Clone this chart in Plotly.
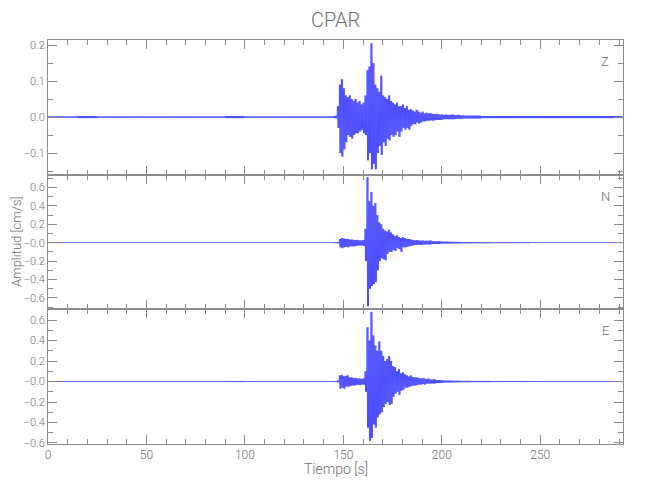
import plotly.graph_objects as go

TITLE = "CPAR"
COMPONENTS = ["Z", "N", "E"]
X_LABEL = "Tiempo [s]"
Y_LABEL = "Amplitud [cm/s]"
RECORD_END = 292          # s
EVENT_START = 145         # first second of the 1-s envelope window
BIN_BG = 5                # background envelope bin width (s)

# ---- per-second envelope (upper / lower amplitude, cm/s), t = 145 ... 209 s ----
z_up = [0.003, 0.004, 0.030, 0.090, 0.105, 0.080, 0.060, 0.055, 0.060, 0.050, 0.045, 0.050, 0.040,
        0.045, 0.035, 0.040, 0.060, 0.130, 0.140, 0.205, 0.150, 0.090, 0.080, 0.070, 0.115, 0.060,
        0.055, 0.050, 0.060, 0.045, 0.040, 0.035, 0.040, 0.030, 0.030, 0.035, 0.025, 0.030, 0.020,
        0.022, 0.018, 0.015, 0.020, 0.015, 0.012, 0.015, 0.010, 0.012, 0.010, 0.011, 0.009, 0.008,
        0.009, 0.008, 0.007, 0.007, 0.006, 0.007, 0.006, 0.006, 0.007, 0.006, 0.005, 0.006, 0.005]
z_dn = [0.003, 0.004, 0.030, 0.100, 0.110, 0.090, 0.070, 0.050, 0.055, 0.060, 0.050, 0.045, 0.045,
        0.040, 0.035, 0.045, 0.050, 0.120, 0.100, 0.145, 0.130, 0.145, 0.100, 0.080, 0.105, 0.070,
        0.080, 0.060, 0.065, 0.050, 0.055, 0.050, 0.040, 0.055, 0.040, 0.030, 0.035, 0.030, 0.035,
        0.025, 0.020, 0.020, 0.015, 0.018, 0.015, 0.012, 0.012, 0.010, 0.010, 0.009, 0.010, 0.009,
        0.008, 0.008, 0.008, 0.007, 0.006, 0.006, 0.006, 0.006, 0.006, 0.006, 0.005, 0.005, 0.005]

n_up = [0.005, 0.005, 0.006, 0.040, 0.050, 0.045, 0.040, 0.040, 0.035, 0.035, 0.030, 0.030, 0.030,
        0.025, 0.025, 0.030, 0.150, 0.710, 0.450, 0.550, 0.400, 0.430, 0.300, 0.220, 0.200, 0.150,
        0.130, 0.120, 0.140, 0.110, 0.090, 0.070, 0.080, 0.060, 0.050, 0.060, 0.050, 0.040, 0.040,
        0.035, 0.030, 0.025, 0.028, 0.025, 0.022, 0.025, 0.020, 0.022, 0.020, 0.025, 0.018, 0.015,
        0.015, 0.018, 0.014, 0.012, 0.010, 0.012, 0.010, 0.010, 0.009, 0.010, 0.008, 0.009, 0.008]
n_dn = [0.005, 0.005, 0.006, 0.050, 0.060, 0.050, 0.045, 0.050, 0.040, 0.040, 0.040, 0.035, 0.030,
        0.030, 0.030, 0.035, 0.200, 0.690, 0.500, 0.470, 0.450, 0.430, 0.300, 0.200, 0.170, 0.180,
        0.190, 0.120, 0.100, 0.100, 0.080, 0.090, 0.060, 0.070, 0.100, 0.050, 0.050, 0.045, 0.040,
        0.035, 0.030, 0.025, 0.025, 0.022, 0.025, 0.020, 0.020, 0.018, 0.020, 0.018, 0.015, 0.015,
        0.014, 0.015, 0.012, 0.010, 0.010, 0.010, 0.010, 0.009, 0.009, 0.008, 0.008, 0.008, 0.007]

e_up = [0.005, 0.005, 0.010, 0.060, 0.065, 0.050, 0.055, 0.060, 0.040, 0.040, 0.035, 0.035, 0.030,
        0.030, 0.025, 0.030, 0.100, 0.530, 0.400, 0.680, 0.450, 0.350, 0.300, 0.390, 0.300, 0.250,
        0.200, 0.220, 0.250, 0.200, 0.150, 0.140, 0.100, 0.120, 0.080, 0.090, 0.070, 0.060, 0.050,
        0.060, 0.045, 0.040, 0.040, 0.035, 0.030, 0.035, 0.030, 0.025, 0.030, 0.020, 0.020, 0.025,
        0.015, 0.015, 0.015, 0.012, 0.010, 0.010, 0.010, 0.009, 0.009, 0.008, 0.008, 0.008, 0.007]
e_dn = [0.005, 0.005, 0.010, 0.070, 0.060, 0.070, 0.050, 0.050, 0.045, 0.040, 0.040, 0.035, 0.030,
        0.035, 0.030, 0.030, 0.100, 0.450, 0.580, 0.550, 0.420, 0.450, 0.350, 0.320, 0.300, 0.250,
        0.220, 0.200, 0.230, 0.220, 0.150, 0.120, 0.100, 0.130, 0.090, 0.080, 0.060, 0.060, 0.050,
        0.045, 0.040, 0.040, 0.035, 0.030, 0.030, 0.025, 0.030, 0.020, 0.020, 0.020, 0.020, 0.020,
        0.015, 0.015, 0.015, 0.012, 0.010, 0.010, 0.010, 0.009, 0.009, 0.008, 0.008, 0.008, 0.007]

# ---- background noise envelope, 5-s bins from 0 s (bins inside the event window unused) ----
z_bg = [0.002, 0.002, 0.002, 0.003, 0.003, 0.002, 0.002, 0.002, 0.002, 0.002,
        0.002, 0.002, 0.002, 0.002, 0.002, 0.002, 0.002, 0.002, 0.003, 0.003,
        0.002, 0.002, 0.002, 0.002, 0.002, 0.002, 0.002, 0.002, 0.002, 0.003,
        0.003, 0.003, 0.003, 0.003, 0.003, 0.003, 0.003, 0.003, 0.003, 0.003,
        0.003, 0.003, 0.004, 0.004, 0.003, 0.003, 0.003, 0.003, 0.003, 0.003,
        0.003, 0.003, 0.003, 0.003, 0.003, 0.003, 0.003, 0.003, 0.003]
n_bg = [0.004, 0.004, 0.004, 0.004, 0.004, 0.004, 0.004, 0.004, 0.004, 0.004,
        0.004, 0.004, 0.004, 0.004, 0.004, 0.004, 0.004, 0.004, 0.004, 0.004,
        0.004, 0.004, 0.004, 0.004, 0.004, 0.004, 0.004, 0.004, 0.004, 0.004,
        0.004, 0.004, 0.004, 0.004, 0.004, 0.004, 0.004, 0.004, 0.004, 0.004,
        0.004, 0.004, 0.007, 0.006, 0.006, 0.005, 0.005, 0.005, 0.005, 0.004,
        0.004, 0.004, 0.004, 0.004, 0.004, 0.004, 0.004, 0.004, 0.004]
e_bg = [0.004, 0.004, 0.004, 0.004, 0.004, 0.004, 0.004, 0.004, 0.004, 0.004,
        0.004, 0.004, 0.004, 0.004, 0.004, 0.004, 0.004, 0.004, 0.005, 0.005,
        0.004, 0.004, 0.004, 0.004, 0.004, 0.004, 0.004, 0.004, 0.004, 0.004,
        0.004, 0.004, 0.004, 0.004, 0.004, 0.004, 0.004, 0.004, 0.004, 0.004,
        0.004, 0.004, 0.007, 0.006, 0.006, 0.005, 0.005, 0.005, 0.005, 0.004,
        0.004, 0.004, 0.004, 0.004, 0.004, 0.004, 0.004, 0.004, 0.004]

# ---- axis ranges / tick labels (as printed on the original) ----
y_ranges = [[-0.160, 0.214], [-0.723, 0.738], [-0.610, 0.705]]
y_tickvals = [[-0.1, 0.0, 0.1, 0.2],
              [-0.6, -0.4, -0.2, 0.0, 0.2, 0.4, 0.6],
              [-0.6, -0.4, -0.2, 0.0, 0.2, 0.4, 0.6]]
y_ticktext = [["\u22120.1", "0.0", "0.1", "0.2"],
              ["\u22120.6", "\u22120.4", "\u22120.2", "\u22120.0", "0.2", "0.4", "0.6"],
              ["\u22120.6", "\u22120.4", "\u22120.2", "\u22120.0", "0.2", "0.4", "0.6"]]
y_minor = [0.05, 0.1, 0.1]
x_tickvals = [0, 50, 100, 150, 200, 250]
x_ticktext = ["0", "50", "100", "150", "200", "250"]

envelopes = [(z_up, z_dn, z_bg), (n_up, n_dn, n_bg), (e_up, e_dn, e_bg)]
WIGGLES_PER_S = 2   # drawing density of the oscillation inside each envelope second


def trace_points(up, dn, bg):
    xs, ys = [], []
    step = 1.0 / WIGGLES_PER_S
    for t in range(0, RECORD_END):
        k = t - EVENT_START
        if 0 <= k < len(up):
            a, b = up[k], dn[k]
        else:
            a = b = bg[t // BIN_BG]
        for j in range(WIGGLES_PER_S):
            x0 = t + j * step
            xs += [x0, x0 + step / 2]
            ys += [a, -b]
    xs.append(RECORD_END)
    ys.append(0.0)
    return xs, ys


GRAY = "#8c8c8c"
TXT = "#707070"
FONT = "Roboto, Lato, sans-serif"
TICKFONT = dict(family=FONT, size=11, color=TXT, weight=300)

fig = go.Figure()
domains = [[2 / 3, 1.0], [1 / 3, 2 / 3], [0.0, 1 / 3]]

for i, (up, dn, bg) in enumerate(envelopes):
    xs, ys = trace_points(up, dn, bg)
    sfx = "" if i == 0 else str(i + 1)
    fig.add_trace(go.Scatter(x=xs, y=ys, mode="lines",
                             line=dict(color="#1010ff", width=0.5, simplify=False),
                             xaxis="x" + sfx, yaxis="y" + sfx,
                             showlegend=False, hoverinfo="skip"))
    fig.layout["xaxis" + sfx] = dict(
        domain=[0, 1], anchor="y" + sfx, range=[0, RECORD_END], automargin=False,
        showline=True, linecolor=GRAY, linewidth=1, mirror="allticks",
        ticks="inside", ticklen=9, tickcolor=GRAY, tickwidth=1,
        tickvals=x_tickvals, ticktext=x_ticktext, showticklabels=(i == 2),
        minor=dict(ticks="inside", ticklen=5, dtick=10, tick0=0, tickcolor=GRAY, showgrid=False),
        showgrid=False, zeroline=False, tickfont=dict(TICKFONT, size=12))
    fig.layout["yaxis" + sfx] = dict(
        domain=domains[i], anchor="x" + sfx, range=y_ranges[i], automargin=False,
        showline=True, linecolor=GRAY, linewidth=1, mirror="allticks",
        ticks="inside", ticklen=9, tickcolor=GRAY, tickwidth=1,
        tickvals=y_tickvals[i], ticktext=y_ticktext[i],
        minor=dict(ticks="inside", ticklen=5, dtick=y_minor[i], tick0=0, tickcolor=GRAY, showgrid=False),
        showgrid=False, zeroline=False, tickfont=TICKFONT)
    fig.add_annotation(text=COMPONENTS[i], xref="x" + sfx + " domain", yref="y" + sfx + " domain",
                       x=0.969, y=0.84, showarrow=False, xanchor="center", yanchor="middle",
                       font=dict(family=FONT, size=13, color=TXT, weight=300))

fig.add_annotation(text=TITLE, xref="paper", yref="paper", x=0.5, y=1.0 + 20 / 404,
                   showarrow=False, xanchor="center", yanchor="middle",
                   font=dict(family=FONT, size=20, color=TXT, weight=300))
fig.add_annotation(text=X_LABEL, xref="paper", yref="paper", x=0.5, y=-25 / 404,
                   showarrow=False, xanchor="center", yanchor="middle",
                   font=dict(family=FONT, size=14, color=TXT, weight=300))
fig.add_annotation(text=Y_LABEL, xref="paper", yref="paper", x=-32 / 575, y=0.5,
                   showarrow=False, xanchor="center", yanchor="middle", textangle=-90,
                   font=dict(family=FONT, size=13, color=TXT, weight=300))

# the page adds an 8-px body margin, so the figure margins are offset to land
# the plot frame at the same window pixels as the reference
fig.update_layout(width=650, height=500, margin=dict(l=40, r=35, t=32, b=64),
                  paper_bgcolor="white", plot_bgcolor="white")

fig.write_html("out.html")
